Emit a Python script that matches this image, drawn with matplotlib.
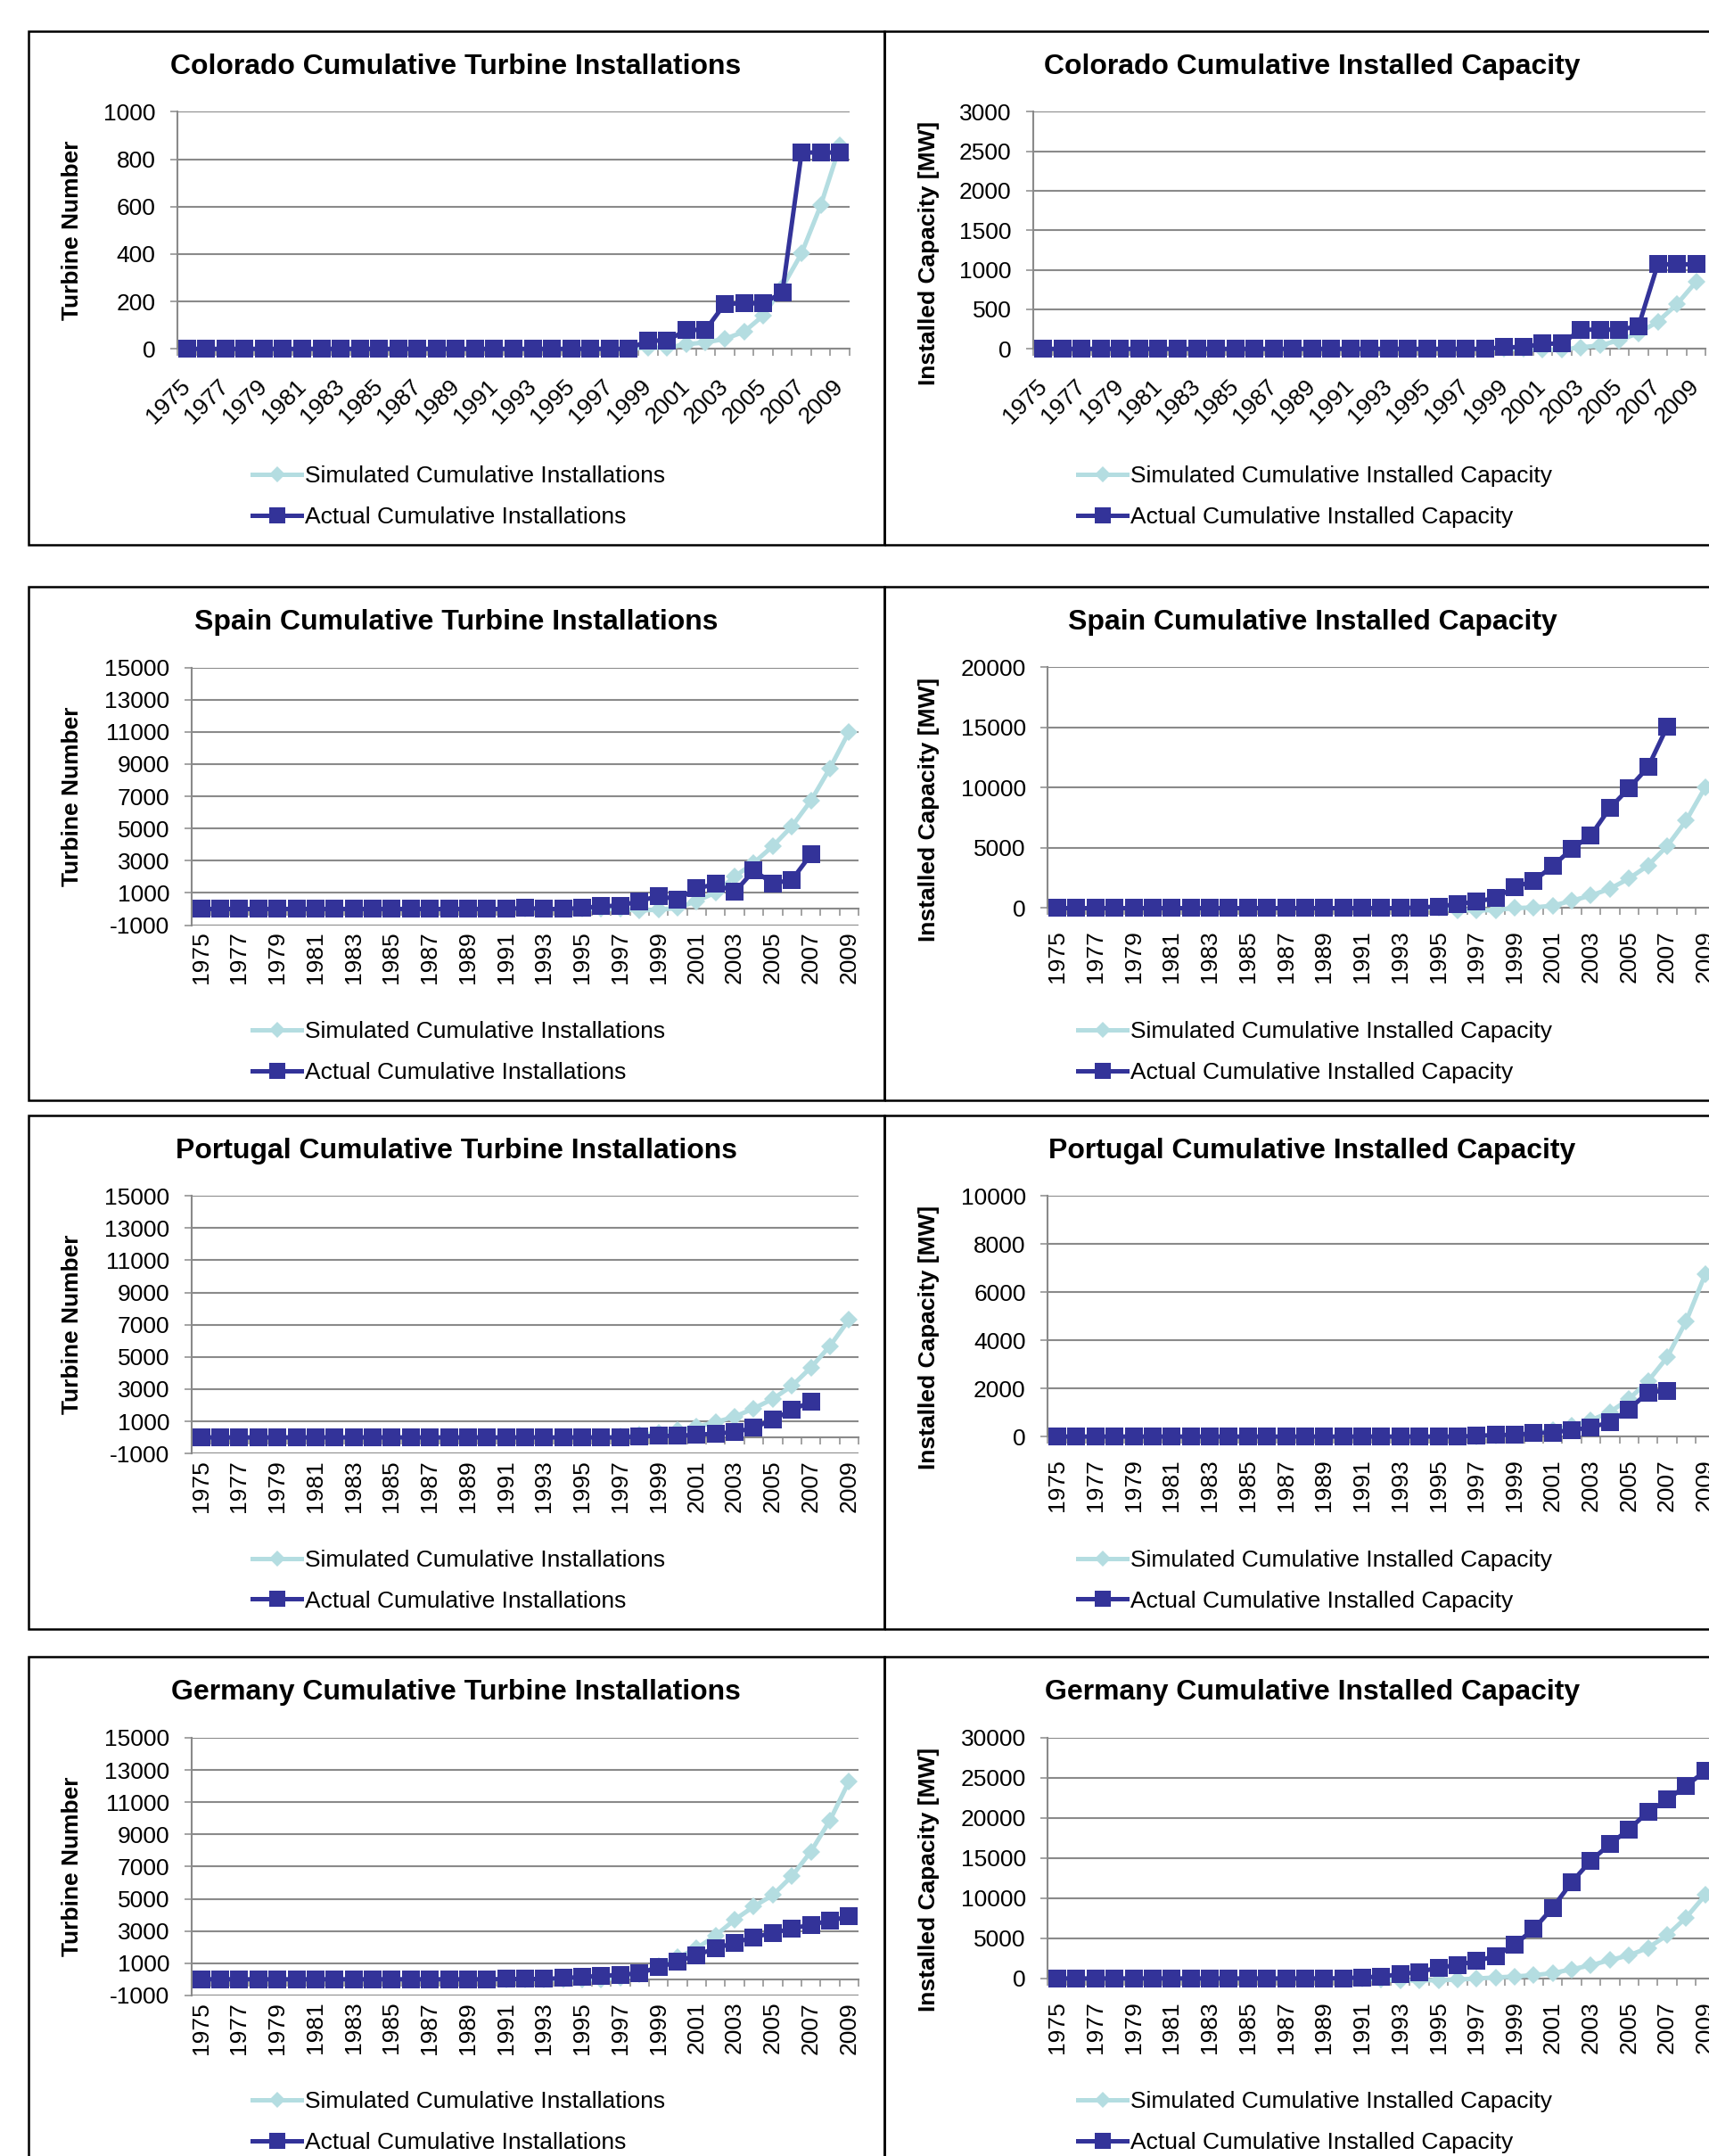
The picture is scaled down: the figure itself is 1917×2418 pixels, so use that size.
import numpy as np
import matplotlib
matplotlib.use('Agg')
import matplotlib.pyplot as plt
from matplotlib.patches import Rectangle

plt.rcParams['font.family'] = ['Liberation Sans', 'DejaVu Sans']
plt.rcParams['axes.unicode_minus'] = False

nan = float('nan')
years = list(range(1975, 2010))

# ── data (cumulative, 1975-2009) ─────────────────────────────────────────────
co_turb_sim = [0] * 24 + [5, 5, 20, 27, 42, 72, 140, 260, 403, 606, 857]
co_turb_act = [0] * 24 + [35, 35, 80, 80, 190, 192, 192, 238, 828, 828, 828]
co_cap_sim = [0] * 24 + [0, 0, -10, -10, 20, 44, 110, 200, 345, 566, 850]
co_cap_act = [0] * 24 + [22, 22, 66, 66, 243, 243, 243, 288, 1070, 1070, 1070]

es_turb_sim = [0] * 23 + [-100, -40, 60, 490, 1020, 2010, 2860, 3900, 5130,
                          6720, 8740, 11000]
es_turb_act = [0] * 17 + [60, 0, 0, 60, 170, 210, 490, 800, 600, 1270, 1550,
                          1050, 2380, 1600, 1800, 3380, nan, nan]
es_cap_sim = [0] * 21 + [-150, -200, -150, 0, 60, 200, 620, 1050, 1610, 2460,
                         3540, 5150, 7270, 10040]
es_cap_act = [0] * 19 + [50, 140, 340, 540, 850, 1750, 2260, 3510, 4920, 6050,
                         8320, 9960, 11710, 15050, nan, nan]

pt_turb_sim = [0] * 22 + [50, 150, 300, 450, 660, 950, 1290, 1800, 2390, 3200,
                          4340, 5680, 7310]
pt_turb_act = [0] * 23 + [60, 100, 100, 170, 230, 340, 590, 1120, 1700, 2220,
                          nan, nan]
pt_cap_sim = [0] * 23 + [30, 80, 150, 280, 450, 680, 1020, 1560, 2300, 3290,
                         4790, 6740]
pt_cap_act = [0] * 22 + [30, 70, 70, 140, 170, 280, 380, 600, 1130, 1840, 1910,
                         nan, nan]

de_turb_sim = [0] * 22 + [100, 350, 800, 1350, 1920, 2720, 3700, 4520, 5230,
                          6400, 7930, 9870, 12290]
de_turb_act = [0] * 16 + [20, 20, 20, 80, 140, 220, 270, 390, 740, 1100, 1510,
                          1920, 2270, 2620, 2880, 3150, 3390, 3640, 3900]
de_cap_sim = [0] * 17 + [-100, -250, -250, -200, -150, 0, 120, 250, 410, 660,
                         1150, 1640, 2300, 2870, 3820, 5380, 7590, 10380]
de_cap_act = [0] * 15 + [40, 120, 250, 530, 820, 1350, 1680, 2180, 2790, 4230,
                         6160, 8820, 12020, 14690, 16740, 18590, 20760, 22280,
                         24010, 25850]

turb_ticks = np.arange(-1000, 15001, 2000)

SIM_COLOR = '#b4dde1'
ACT_COLOR = '#333399'
GRID = '#8a8a8a'

W, H = 1917, 2418
BOX_TOP = [34.8, 658, 1250.7, 1858.4]
BOX_H = 576
COL_X = [31.6, 992]
BOX_W = 960

TURB = ('Simulated Cumulative Installations', 'Actual Cumulative Installations')
CAP = ('Simulated Cumulative Installed Capacity',
       'Actual Cumulative Installed Capacity')

panels = [
    (0, 0, 'Colorado Cumulative Turbine Installations', 'Turbine Number',
     np.arange(0, 1001, 200), co_turb_sim, co_turb_act, TURB),
    (0, 1, 'Colorado Cumulative Installed Capacity', 'Installed Capacity [MW]',
     np.arange(0, 3001, 500), co_cap_sim, co_cap_act, CAP),
    (1, 0, 'Spain Cumulative Turbine Installations', 'Turbine Number',
     turb_ticks, es_turb_sim, es_turb_act, TURB),
    (1, 1, 'Spain Cumulative Installed Capacity', 'Installed Capacity [MW]',
     np.arange(0, 20001, 5000), es_cap_sim, es_cap_act, CAP),
    (2, 0, 'Portugal Cumulative Turbine Installations', 'Turbine Number',
     turb_ticks, pt_turb_sim, pt_turb_act, TURB),
    (2, 1, 'Portugal Cumulative Installed Capacity', 'Installed Capacity [MW]',
     np.arange(0, 10001, 2000), pt_cap_sim, pt_cap_act, CAP),
    (3, 0, 'Germany Cumulative Turbine Installations', 'Turbine Number',
     turb_ticks, de_turb_sim, de_turb_act, TURB),
    (3, 1, 'Germany Cumulative Installed Capacity', 'Installed Capacity [MW]',
     np.arange(0, 30001, 5000), de_cap_sim, de_cap_act, CAP),
]


def fx(x):
    return x / W


def fy(y):
    return 1 - y / H


fig = plt.figure(figsize=(W / 100, H / 100), dpi=100)
x = np.arange(len(years))

for row, col, title, ylabel, yticks, sim, act, labels in panels:
    bx, by = COL_X[col], BOX_TOP[row]

    # chart border
    fig.add_artist(Rectangle((fx(bx), fy(by + BOX_H)), BOX_W / W, BOX_H / H,
                             transform=fig.transFigure, fill=False,
                             edgecolor='black', linewidth=1.8))

    # plot area
    if row == 0:
        left, width, height = bx + 167.4, 754, 266
    else:
        left, width = bx + 183.4, 748
        height = 289 if yticks[0] < 0 else 270
    top = by + 90.5
    ax = fig.add_axes([fx(left), fy(top + height), width / W, height / H])

    ax.plot(x, sim, color=SIM_COLOR, lw=3.6, marker='D', ms=10, mew=0,
            clip_on=False, zorder=3, label=labels[0])
    ax.plot(x, act, color=ACT_COLOR, lw=3.6, marker='s', ms=14.4, mew=0,
            clip_on=False, zorder=4, label=labels[1])

    ax.set_xlim(-0.5, len(years) - 0.5)
    ax.set_ylim(yticks[0], yticks[-1])
    ax.set_yticks(yticks)
    ax.yaxis.grid(True, color=GRID, linewidth=1.5)
    ax.set_axisbelow(True)
    for s in ('top', 'right'):
        ax.spines[s].set_visible(False)
    for s in ('left', 'bottom'):
        ax.spines[s].set_color(GRID)
        ax.spines[s].set_linewidth(1.5)
    ax.spines['bottom'].set_position(('data', 0))

    ax.set_xticks(np.arange(len(years) + 1) - 0.5, minor=True)
    ax.set_xticks(x[::2])
    ax.set_xticklabels([str(y) for y in years[::2]])
    ax.tick_params(axis='x', which='minor', length=5.8, width=1.1,
                   color=GRID, direction='out')
    ax.tick_params(axis='y', length=5.8, width=1.1, color=GRID, pad=12,
                   labelsize=19)
    if row == 0:
        ax.tick_params(axis='x', which='major', length=0, pad=27.4,
                       labelsize=19)
        plt.setp(ax.get_xticklabels(), rotation=45, ha='right', va='center',
                 rotation_mode='anchor')
    else:
        ax.tick_params(axis='x', which='major', length=0, pad=18,
                       labelsize=19)
        plt.setp(ax.get_xticklabels(), rotation=90, ha='right', va='center',
                 rotation_mode='anchor')

    cx = bx + BOX_W / 2
    fig.text(fx(cx), fy(by + 40), title, ha='center', va='center',
             fontsize=23, fontweight='bold')

    label_y = top + height / 2 + (24 if col == 1 and row > 0 else 0)
    if col == 1 and row == 0:
        label_y += 26
    fig.text(fx(bx + 49.5), fy(label_y), ylabel, rotation=90, ha='center',
             va='center', fontsize=19, fontweight='bold')

    handles, labs = ax.get_legend_handles_labels()
    fig.legend(handles, labs, loc='center',
               bbox_to_anchor=(fx(cx + 3), fy(by + 522)),
               frameon=False, fontsize=19, handlelength=2.08,
               handletextpad=0.15, labelspacing=0.83, markerscale=0.9,
               borderpad=0)

fig.savefig('out.png', dpi=100)
